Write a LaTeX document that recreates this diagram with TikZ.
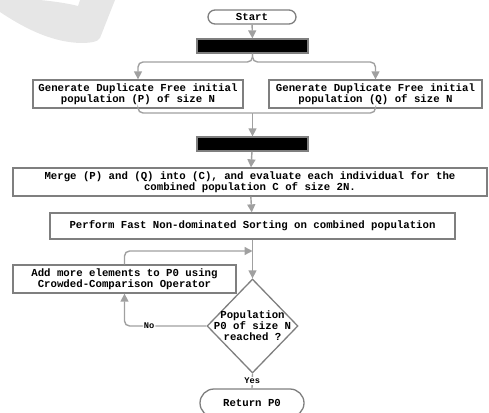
\documentclass[tikz,border=0pt]{standalone}
\usepackage{fontspec}
\setmonofont{Liberation Mono}
\usetikzlibrary{arrows.meta,shapes.misc,shapes.geometric}
\definecolor{boxgray}{HTML}{7F7F7F}
\definecolor{linegray}{HTML}{A0A0A0}
\definecolor{wm}{HTML}{E6E6E6}
\begin{document}
\begin{tikzpicture}[x=1pt,y=-1pt,
  txt/.style={font=\ttfamily\bfseries\fontsize{10.7}{10.9}\selectfont, align=center},
  box/.style={draw=boxgray, line width=1.3pt, fill=white, inner sep=0pt, txt},
  bar/.style={draw=boxgray, line width=1.3pt, fill=black, minimum width=111pt, minimum height=14pt, inner sep=0pt},
  term/.style={box, rounded rectangle},
  conn/.style={draw=linegray, line width=1.4pt},
  arr/.style={conn, -{Triangle[length=8pt,width=8pt]}},
  lab/.style={fill=white, inner sep=1pt, font=\ttfamily\bfseries\fontsize{8.7}{9}\selectfont}
]
\useasboundingbox (0,0) rectangle (489,412);
% watermark
\fill[wm] (0,0) -- (40,0) .. controls (60,2) and (70,4) .. (78,6) -- (80,0) -- (115,0) -- (100,38) .. controls (98,42) and (90,43) .. (80,43) .. controls (55,42) and (30,32) .. (0,12) -- cycle;

\node[term, minimum width=88pt, minimum height=14pt] (start) at (252,17) {Start};
\node[bar] (bar1) at (252.5,46) {};
\node[box, minimum width=210pt, minimum height=28pt] (P) at (138,94) {Generate Duplicate Free initial\\population (P) of size N};
\node[box, minimum width=213pt, minimum height=28pt] (Q) at (375.5,94) {Generate Duplicate Free initial\\population (Q) of size N};
\node[bar] (bar2) at (252.5,144) {};
\node[box, minimum width=474pt, minimum height=28pt] (merge) at (250,182) {Merge (P) and (Q) into (C), and evaluate each individual for the\\combined population C of size 2N.};
\node[box, minimum width=405pt, minimum height=26pt] (sort) at (252.5,226) {Perform Fast Non-dominated Sorting on combined population};
\node[draw=boxgray, line width=1.3pt, diamond, minimum width=91pt, minimum height=94pt, inner sep=0pt, fill=white] (dec) at (252.5,326) {};
\node[txt, font=\ttfamily\bfseries\fontsize{10.7}{11}\selectfont] (dectxt) at (dec.center) {Population\\P0 of size N\\reached ?};
\node[box, minimum width=223pt, minimum height=28pt] (add) at (124.5,279) {Add more elements to P0 using\\Crowded-Comparison Operator};
\node[term, minimum width=104pt, minimum height=28pt] (ret) at (252,403) {Return P0};

\coordinate (s1) at (252.5,62);
\coordinate (m1) at (252.5,113);
\coordinate (j) at (252.5,251);

\draw[arr] (start) -- (bar1);
\draw[arr, rounded corners=5pt] (bar1.south) -- (s1) -| (P.north);
\draw[arr, rounded corners=5pt] (bar1.south) -- (s1) -| (Q.north);
\draw[conn, rounded corners=5pt] (P.south) |- (m1);
\draw[conn, rounded corners=5pt] (Q.south) |- (m1);
\draw[arr] (m1) -- (bar2.north);
\draw[arr] (bar2) -- (merge);
\draw[arr] (merge) -- (sort);
\draw[arr] (sort) -- (dec.north);
\draw[arr, rounded corners=5pt] (add.north) |- (j);
\draw[arr, rounded corners=5pt] (dec.west) -| (add.south) node[lab, pos=0.35] {No};
\draw[conn] (dec.south) -- (ret.north) node[lab, pos=0.5] {Yes};
\end{tikzpicture}
\end{document}
